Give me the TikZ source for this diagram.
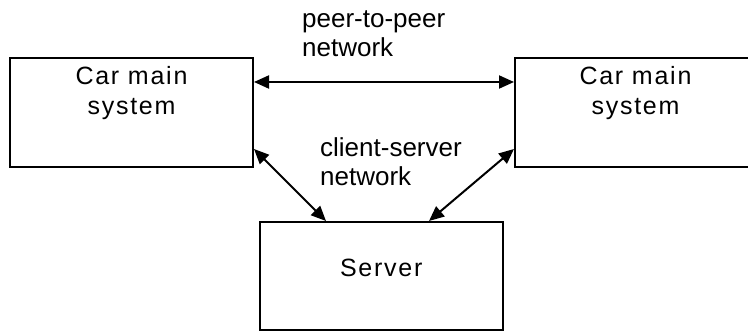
\documentclass[tikz,border=0pt]{standalone}
\usepackage{fontspec}
\setmainfont{Liberation Sans}
\newfontfamily\boxfont[LetterSpace=7]{Liberation Sans}
\usetikzlibrary{arrows.meta,calc}
\begin{document}
\begin{tikzpicture}[x=1pt,y=-1pt,
  box/.style={draw,line width=2pt,inner sep=0pt},
  boxtext/.style={inner sep=0pt,anchor=base,font=\boxfont\fontsize{25}{30}\selectfont},
  netlabel/.style={inner sep=0pt,anchor=base west,align=left,font=\fontsize{26}{29}\selectfont},
  link/.style={line width=2pt,{Triangle[length=15pt,width=13pt]}-{Triangle[length=15pt,width=13pt]}}]
\useasboundingbox (0,0) rectangle (748,331);
\clip (0,0) rectangle (748,331);

% the two car systems and the server
\node[box,minimum width=243pt,minimum height=109pt] (L) at (131.5,112.5) {};
\node[box,minimum width=241pt,minimum height=109pt] (R) at (635.5,112.5) {};
\node[box,minimum width=242.5pt,minimum height=108pt] (S) at (381.25,276) {};

\node[boxtext] (Lt1) at ($(L.north)+(0,27.7)$) {Car main};
\node[boxtext] (Lt2) at ($(L.north)+(0,57.7)$) {system};
\node[boxtext] (Rt1) at ($(R.north)+(0,27.7)$) {Car main};
\node[boxtext] (Rt2) at ($(R.north)+(0,57.7)$) {system};
\node[boxtext] (St) at ($(S.north)+(0,56)$) {Server};

% network labels (base anchor sits on the last line)
\node[netlabel] (p2p) at (302,56.7) {peer-to-peer\\network};
\node[netlabel] (cs) at (320,185.7) {client-server\\network};

% connections
\draw[link] ($(L.north east)+(0,25)$) -- ($(R.north west)+(0,25)$);
\draw[link] ($(L.south east)+(0,-19)$) -- ($(S.north west)+(67,0)$);
\draw[link] ($(S.north east)+(-74.5,0)$) -- ($(R.south west)+(0,-19)$);
\end{tikzpicture}
\end{document}
